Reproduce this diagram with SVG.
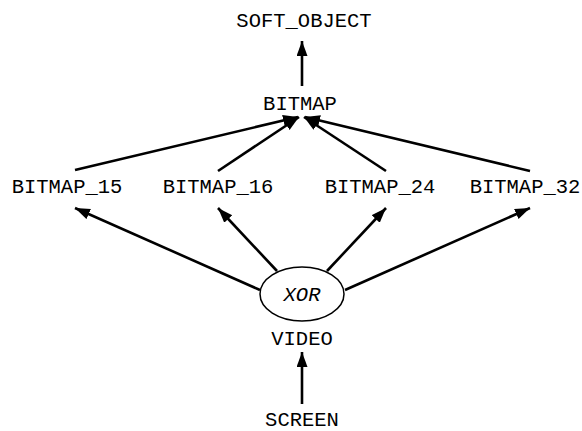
<svg xmlns="http://www.w3.org/2000/svg" width="582" height="431" viewBox="0 0 582 431">
<defs>
<style>
text{font-family:"Liberation Mono","Courier New",monospace;font-size:20.5px;fill:#000;text-anchor:middle}
.it{font-style:italic}
.e{stroke:#000;stroke-width:2.6;fill:none;marker-end:url(#ah)}
</style>
<marker id="ah" markerUnits="userSpaceOnUse" markerWidth="16" markerHeight="12" refX="15" refY="5.5" orient="auto">
<path d="M0,0 L15,5.5 L0,11 z" fill="#000"/>
</marker>
</defs>
<rect width="582" height="431" fill="#fff"/>
<g id="connectors">
<line class="e" x1="302" y1="86" x2="302" y2="41"/>
<line class="e" x1="75" y1="170" x2="298" y2="117"/>
<line class="e" x1="218" y1="171" x2="299" y2="117"/>
<line class="e" x1="386" y1="171" x2="304" y2="117"/>
<line class="e" x1="530" y1="171" x2="305" y2="117"/>
<line class="e" x1="260" y1="290" x2="75" y2="208"/>
<line class="e" x1="277" y1="271" x2="218" y2="208"/>
<line class="e" x1="327" y1="271" x2="386" y2="208"/>
<line class="e" x1="345" y1="290" x2="530" y2="208"/>
<line class="e" x1="302" y1="404" x2="302" y2="352"/>
</g>
<g id="SOFT_OBJECT"><text x="304" y="27">SOFT_OBJECT</text></g>
<g id="BITMAP"><text x="300" y="110">BITMAP</text></g>
<g id="BITMAP_15"><text x="67" y="193">BITMAP_15</text></g>
<g id="BITMAP_16"><text x="218" y="193">BITMAP_16</text></g>
<g id="BITMAP_24"><text x="380" y="193">BITMAP_24</text></g>
<g id="BITMAP_32"><text x="525" y="193">BITMAP_32</text></g>
<g id="XOR"><ellipse cx="302" cy="294" rx="42" ry="27" fill="#fff" stroke="#000" stroke-width="1.5"/><text class="it" x="302" y="301">XOR</text></g>
<g id="VIDEO"><text x="302" y="345">VIDEO</text></g>
<g id="SCREEN"><text x="302" y="426">SCREEN</text></g>
</svg>
